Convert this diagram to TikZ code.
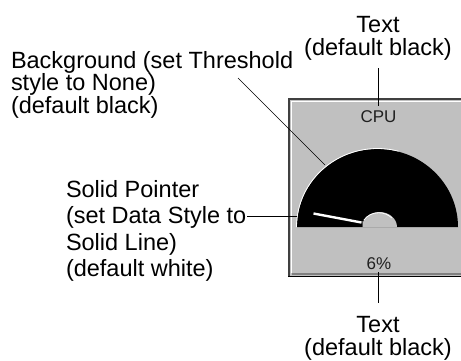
\documentclass[tikz,border=0pt]{standalone}
\usepackage{fontspec}
\setmainfont{Liberation Sans}
\definecolor{panelgray}{HTML}{C0C0C0}
\definecolor{panelline}{HTML}{404040}
\definecolor{shadowgray}{HTML}{808080}
\definecolor{lcdtext}{HTML}{202020}
\begin{document}
\begin{tikzpicture}[x=1pt,y=-1pt,
  lbl/.style={inner sep=0pt, outer sep=0pt, font=\fontsize{23.5}{23.5}\selectfont},
  lblL/.style={lbl, anchor=base west},
  lblC/.style={lbl, anchor=base},
  leader/.style={draw=black, line width=0.9pt},
  lcd/.style={inner sep=0pt, text=lcdtext, font=\fontsize{17}{17}\selectfont}]
\useasboundingbox (0,0) rectangle (461,360);
% panel
\fill[panelgray] (288,98) rectangle (470,277);
\draw[white, line width=1.2pt] (291.5,273) -- (291.5,101.5) -- (470,101.5);
\draw[shadowgray, line width=2pt] (292,273.5) -- (470,273.5);
\draw[panelline, line width=1.6pt] (288.8,277) -- (288.8,98.8) -- (470,98.8);
\draw[black, line width=1.6pt] (288,276.5) -- (470,276.5);
% gauge
\fill[black] (297,227) arc[start angle=180, end angle=0, x radius=80.5, y radius=-78] -- cycle;
\draw[white, line width=0.8pt] (296.5,227) arc[start angle=180, end angle=75, x radius=81, y radius=-78.5];
\fill[panelgray] (362,227) arc[start angle=180, end angle=0, x radius=17.5, y radius=-15] -- cycle;
\draw[white, line width=0.8pt] (364,220) arc[start angle=150, end angle=40, x radius=17, y radius=-14.5];
\draw[shadowgray!60!black, line width=0.8pt] (362.5,221) -- (362.5,227);
\draw[white, line width=2.4pt] (313.5,213.5) -- (361.5,222.5);
\node[lcd] (cpu) at (378.5,117) {CPU};
\node[lcd] (pct) at (379,263.5) {6\%};
% labels
\node[lblC] (top1) at (378,32) {Text};
\node[lblC] (top2) at (378,55.5) {(default black)};
\node[lblL] (bg1) at (11,68) {Background (set Threshold};
\node[lblL] (bg2) at (11,90.5) {style to None)};
\node[lblL] (bg3) at (11,113) {(default black)};
\node[lblL] (ptr1) at (66,197) {Solid Pointer};
\node[lblL] (ptr2) at (66,223.5) {(set Data Style to};
\node[lblL] (ptr3) at (66,250) {Solid Line)};
\node[lblL] (ptr4) at (66,276.5) {(default white)};
\node[lblC] (bot1) at (378,332) {Text};
\node[lblC] (bot2) at (378,355) {(default black)};
% leader ends
\coordinate (topB) at (378,106);
\coordinate (bgA) at (238,78);
\coordinate (bgB) at (325,165);
\coordinate (ptrB) at (297,216);
\coordinate (botA) at (378,272);
\coordinate (botB) at (378,303);
\draw[leader] (top2.south |- 0,68) -- (topB);
\draw[leader, line width=0.6pt] (bgA) -- (bgB);
\draw[leader] (ptr2.east |- ptrB) ++(1,0) -- (ptrB);
\draw[leader] (botA) -- (botB);
\end{tikzpicture}
\end{document}
